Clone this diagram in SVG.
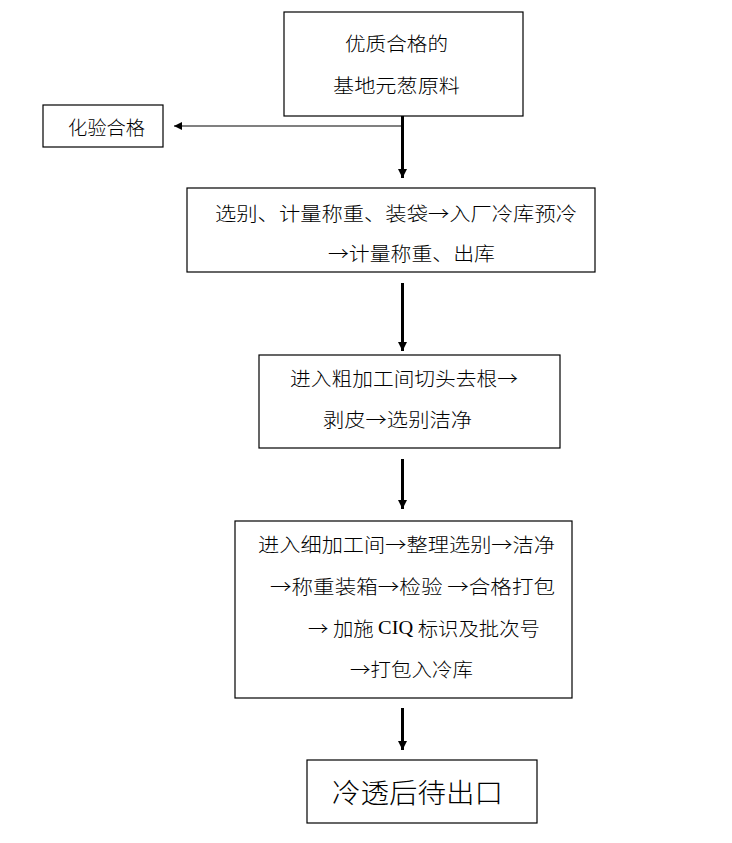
<svg xmlns="http://www.w3.org/2000/svg" width="732" height="843" viewBox="0 0 732 843">
<style>
.box{fill:#fff;stroke:#000;stroke-width:1.2}
.t{font-family:"Noto Sans CJK SC","Noto Sans",sans-serif;font-size:19px;font-weight:300;fill:#000;dominant-baseline:central}
.big{font-size:27px}
.lat{font-family:"Liberation Serif",serif;font-weight:400}
.v{stroke:#000;stroke-width:3;fill:none}
.h{stroke:#808080;stroke-width:2;fill:none}
</style>
<defs>
<marker id="ah" viewBox="0 0 10 10" refX="10" refY="5" markerWidth="3" markerHeight="3" orient="auto" markerUnits="strokeWidth">
<path d="M0,0 L10,5 L0,10 z" fill="#000"/>
</marker>
<marker id="ah2" viewBox="0 0 10 10" refX="10" refY="5" markerWidth="4" markerHeight="4" orient="auto" markerUnits="strokeWidth">
<path d="M0,0 L10,5 L0,10 z" fill="#000"/>
</marker>
</defs>
<rect width="732" height="843" fill="#fff"/>
<g id="connectors">
<path class="h" d="M402,126 L174,126" marker-end="url(#ah2)"/>
<path class="v" d="M402.5,116 L402.5,178" marker-end="url(#ah)"/>
<path class="v" d="M402.5,283 L402.5,351" marker-end="url(#ah)"/>
<path class="v" d="M402.5,459 L402.5,509" marker-end="url(#ah)"/>
<path class="v" d="M402.5,708 L402.5,750" marker-end="url(#ah)"/>
</g>
<g id="n1">
<rect class="box" x="284" y="12" width="239" height="104"/>
<text class="t" x="345" y="42" textLength="103" lengthAdjust="spacingAndGlyphs">优质合格的</text>
<text class="t" x="333" y="84" textLength="127" lengthAdjust="spacingAndGlyphs">基地元葱原料</text>
</g>
<g id="n2">
<rect class="box" x="43" y="105" width="120" height="42"/>
<text class="t" x="68" y="126" textLength="77" lengthAdjust="spacingAndGlyphs">化验合格</text>
</g>
<g id="n3">
<rect class="box" x="187" y="188" width="408" height="84"/>
<text class="t" x="215" y="212" textLength="362" lengthAdjust="spacingAndGlyphs">选别、计量称重、装袋→入厂冷库预冷</text>
<text class="t" x="328" y="252" textLength="167" lengthAdjust="spacingAndGlyphs">→计量称重、出库</text>
</g>
<g id="n4">
<rect class="box" x="259" y="355" width="301" height="93"/>
<text class="t" x="290" y="377" textLength="228" lengthAdjust="spacingAndGlyphs">进入粗加工间切头去根→</text>
<text class="t" x="323" y="418" textLength="149" lengthAdjust="spacingAndGlyphs">剥皮→选别洁净</text>
</g>
<g id="n5">
<rect class="box" x="235" y="521" width="337" height="177"/>
<text class="t" x="258" y="543" textLength="297" lengthAdjust="spacingAndGlyphs">进入细加工间→整理选别→洁净</text>
<text class="t" x="270" y="585" textLength="285" lengthAdjust="spacingAndGlyphs">→称重装箱→检验 →合格打包</text>
<text class="t" x="308" y="627" textLength="232" lengthAdjust="spacingAndGlyphs">→  加施 <tspan class="lat">CIQ</tspan> 标识及批次号</text>
<text class="t" x="350" y="668" textLength="123" lengthAdjust="spacingAndGlyphs">→打包入冷库</text>
</g>
<g id="n6">
<rect class="box" x="307" y="760" width="230" height="63"/>
<text class="t big" x="332" y="791" textLength="171" lengthAdjust="spacingAndGlyphs">冷透后待出口</text>
</g>
</svg>
